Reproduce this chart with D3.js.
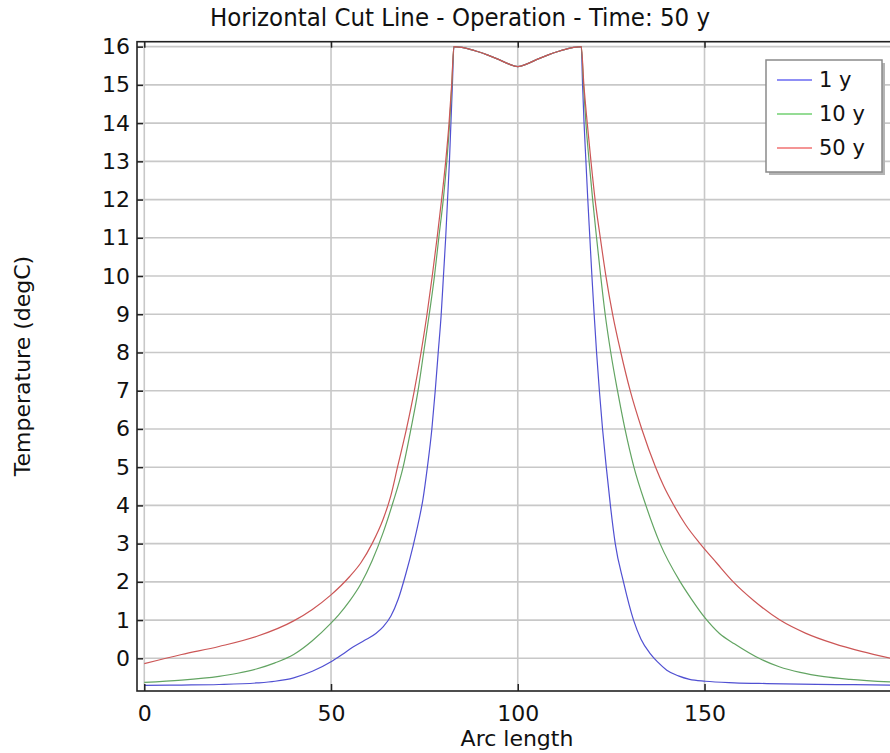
<!DOCTYPE html>
<html>
<head>
<meta charset="utf-8">
<script src="https://cdn.jsdelivr.net/npm/d3@7"></script>
<style>
  html, body { margin: 0; padding: 0; background: #fff; }
  svg { display: block; }
  text { font-family: "DejaVu Sans", sans-serif; fill: #111; }
</style>
</head>
<body>
<svg id="chart" width="890" height="753"></svg>
<script>
// Temperature profiles along the horizontal cut line, [arc length, degC]
const profile1y = [
  [0,-0.71],[10,-0.70],[20,-0.685],[30,-0.645],[35,-0.6],[40,-0.51],[45,-0.34],[50,-0.09],
  [53,0.1],[56,0.3],[59,0.47],[62,0.65],[64,0.83],[66,1.1],[68,1.55],[70,2.2],[72,2.95],
  [73.5,3.6],[74.6,4.15],[75.8,5.0],[77,6.0],[77.9,7.0],[78.7,8.0],[79.5,9.0],[80.1,10.0],
  [80.7,11.0],[81.2,12.0],[81.7,13.0],[82.1,14.0],[82.5,15.0],[82.9,16.0],
  [86,15.96],[89,15.88],[92,15.78],[95,15.66],[97.5,15.55],[100,15.48],
  [102.5,15.55],[105,15.66],[108,15.78],[111,15.88],[114,15.96],[117,16.0],
  [117.35,15.0],[117.75,14.0],[118.25,13.0],[118.75,12.0],[119.3,11.0],[119.85,10.0],
  [120.45,9.0],[121.1,8.0],[121.85,7.0],[122.7,6.0],[123.7,5.0],[124.8,4.0],[126.1,3.0],
  [128.3,2.0],[131.0,1.0],[133,0.5],[135.4,0.13],[137.5,-0.1],[139.9,-0.31],[143,-0.46],
  [146,-0.55],[150.2,-0.6],[158,-0.64],[166.7,-0.66],[180,-0.68],[190,-0.69],[200,-0.70]
];
const profile10y = [
  [0,-0.63],[10,-0.57],[20,-0.47],[25,-0.39],[30,-0.28],[35,-0.12],[40,0.1],[45,0.46],
  [50,0.92],[52,1.13],[55,1.5],[58,1.95],[61,2.55],[64,3.3],[66.5,4.05],[69.3,5.0],
  [71.4,6.0],[73.3,7.0],[74.8,8.0],[76.3,9.0],[77.7,10.0],[78.85,11.0],[80.05,12.0],
  [81.0,13.0],[81.75,14.0],[82.35,15.0],[82.9,16.0],
  [86,15.96],[89,15.88],[92,15.78],[95,15.66],[97.5,15.55],[100,15.48],
  [102.5,15.55],[105,15.66],[108,15.78],[111,15.88],[114,15.96],[117,16.0],
  [117.6,15.0],[118.25,14.0],[119.1,13.0],[120.05,12.0],[121.1,11.0],[122.2,10.0],
  [123.4,9.0],[124.9,8.0],[126.7,7.0],[128.7,6.0],[131.1,5.0],[134.3,4.0],[138.1,3.0],
  [143.5,2.0],[146.5,1.55],[150.2,1.05],[154,0.65],[158,0.38],[165,-0.02],[170,-0.22],
  [175.6,-0.37],[182,-0.48],[189,-0.55],[200,-0.62]
];
const profile50y = [
  [0,-0.14],[10,0.1],[20,0.31],[30,0.57],[40,0.98],[45,1.28],[50,1.66],[55,2.14],
  [58,2.5],[61,3.0],[64,3.65],[66,4.25],[67.8,5.0],[70.2,6.0],[72.3,7.0],[74.1,8.0],
  [75.7,9.0],[77.1,10.0],[78.4,11.0],[79.6,12.0],[80.7,13.0],[81.6,14.0],[82.3,15.0],[82.9,16.0],
  [86,15.96],[89,15.88],[92,15.78],[95,15.66],[97.5,15.55],[100,15.48],
  [102.5,15.55],[105,15.66],[108,15.78],[111,15.88],[114,15.96],[117,16.0],
  [117.7,15.0],[118.6,14.0],[119.6,13.0],[120.7,12.0],[122.1,11.0],[123.6,10.0],
  [125.4,9.0],[127.6,8.0],[130.1,7.0],[133.2,6.0],[136.9,5.0],[139.1,4.5],[141.8,4.0],
  [144.9,3.5],[148.8,3.0],[153.2,2.5],[157.7,2.0],[163.3,1.5],[170.2,1.0],[177,0.66],
  [184.5,0.39],[192,0.18],[200,0.0]
];

const seriesNames = ["1 y", "10 y", "50 y"];
const seriesData = [profile1y, profile10y, profile50y];
const lineColors = ["#5050d2", "#62a462", "#cc5656"];
const legendColors = ["#6a6af2", "#72d072", "#f07272"];

const xTicks = [0, 50, 100, 150];
const yTicks = d3.range(0, 17);

const titleText = "Horizontal Cut Line - Operation - Time: 50 y";
const xLabel = "Arc length";
const yLabel = "Temperature (degC)";

// Plot geometry
const plot = { left: 137, right: 892, top: 41.7, bottom: 691 };

const svg = d3.select("#chart");

const x = d3.scaleLinear().domain([-1.95, 200.2]).range([plot.left, plot.right]);
const y = d3.scaleLinear().domain([-0.855, 16.13]).range([plot.bottom, plot.top]);

svg.append("defs").append("clipPath").attr("id", "plotClip")
  .append("rect")
  .attr("x", plot.left).attr("y", plot.top)
  .attr("width", plot.right - plot.left).attr("height", plot.bottom - plot.top);

// Grid
const grid = svg.append("g").attr("clip-path", "url(#plotClip)");
grid.selectAll("line.gx").data(xTicks).join("line")
  .attr("x1", d => x(d)).attr("x2", d => x(d))
  .attr("y1", plot.top).attr("y2", plot.bottom)
  .attr("stroke", "#c8c8c8").attr("stroke-width", 1.6);
grid.selectAll("line.gy").data(yTicks).join("line")
  .attr("x1", plot.left).attr("x2", plot.right)
  .attr("y1", d => y(d)).attr("y2", d => y(d))
  .attr("stroke", "#c8c8c8").attr("stroke-width", 1.6);

// Curves
const line = d3.line()
  .x(d => x(d[0])).y(d => y(d[1]))
  .curve(d3.curveMonotoneX);
const curves = svg.append("g").attr("clip-path", "url(#plotClip)");
seriesData.forEach((data, i) => {
  curves.append("path")
    .datum(data)
    .attr("d", line)
    .attr("fill", "none")
    .attr("stroke", lineColors[i])
    .attr("stroke-width", 1.2)
    .attr("stroke-linejoin", "round");
});

// Axes: ticks pointing inward
const axisBottom = d3.axisBottom(x).tickValues(xTicks).tickSize(-7).tickPadding(14).tickFormat(d3.format("d"));
const axisTop = d3.axisTop(x).tickValues(xTicks).tickSize(-6).tickFormat("");
const axisLeft = d3.axisLeft(y).tickValues(yTicks).tickSize(-6).tickPadding(7).tickFormat(d3.format("d"));

function styleAxis(g) {
  g.select(".domain").remove();
  g.selectAll(".tick line").attr("stroke", "#222").attr("stroke-width", 1.5);
  g.selectAll(".tick text")
    .attr("font-family", "DejaVu Sans, sans-serif")
    .attr("font-size", 22).attr("fill", "#111");
}

svg.append("g").attr("transform", `translate(0,${plot.bottom})`).call(axisBottom).call(styleAxis);
svg.append("g").attr("transform", `translate(0,${plot.top})`).call(axisTop).call(styleAxis);
svg.append("g").attr("transform", `translate(${plot.left},0)`).call(axisLeft).call(styleAxis);

// Frame
svg.append("rect")
  .attr("x", plot.left).attr("y", plot.top)
  .attr("width", plot.right - plot.left).attr("height", plot.bottom - plot.top)
  .attr("fill", "none").attr("stroke", "#222").attr("stroke-width", 1.6);

// Title and axis labels
svg.append("text")
  .attr("x", 460).attr("y", 26)
  .attr("text-anchor", "middle")
  .style("font-family", "'DejaVu Sans Condensed', 'DejaVu Sans', sans-serif")
  .style("font-stretch", "condensed")
  .attr("font-size", 25.5)
  .text(titleText);

svg.append("text")
  .attr("x", 517).attr("y", 746)
  .attr("text-anchor", "middle")
  .attr("font-size", 22)
  .text(xLabel);

svg.append("text")
  .attr("transform", "translate(30,366) rotate(-90)")
  .attr("text-anchor", "middle")
  .attr("font-size", 22)
  .text(yLabel);

// Legend
const legend = svg.append("g").attr("transform", "translate(766,60)");
const lw = 116, lh = 112;
legend.append("rect")
  .attr("x", 3).attr("y", 3).attr("width", lw).attr("height", lh)
  .attr("fill", "#b4b4b4");
legend.append("rect")
  .attr("x", 0).attr("y", 0).attr("width", lw).attr("height", lh)
  .attr("fill", "#fff").attr("stroke", "#8a8a8a").attr("stroke-width", 1.5);
seriesNames.forEach((name, i) => {
  const ry = 20 + i * 34;
  legend.append("line")
    .attr("x1", 11).attr("x2", 46)
    .attr("y1", ry).attr("y2", ry)
    .attr("stroke", legendColors[i]).attr("stroke-width", 1.6);
  legend.append("text")
    .attr("x", 53).attr("y", ry + 7)
    .attr("font-size", 21)
    .text(name);
});
</script>
</body>
</html>
